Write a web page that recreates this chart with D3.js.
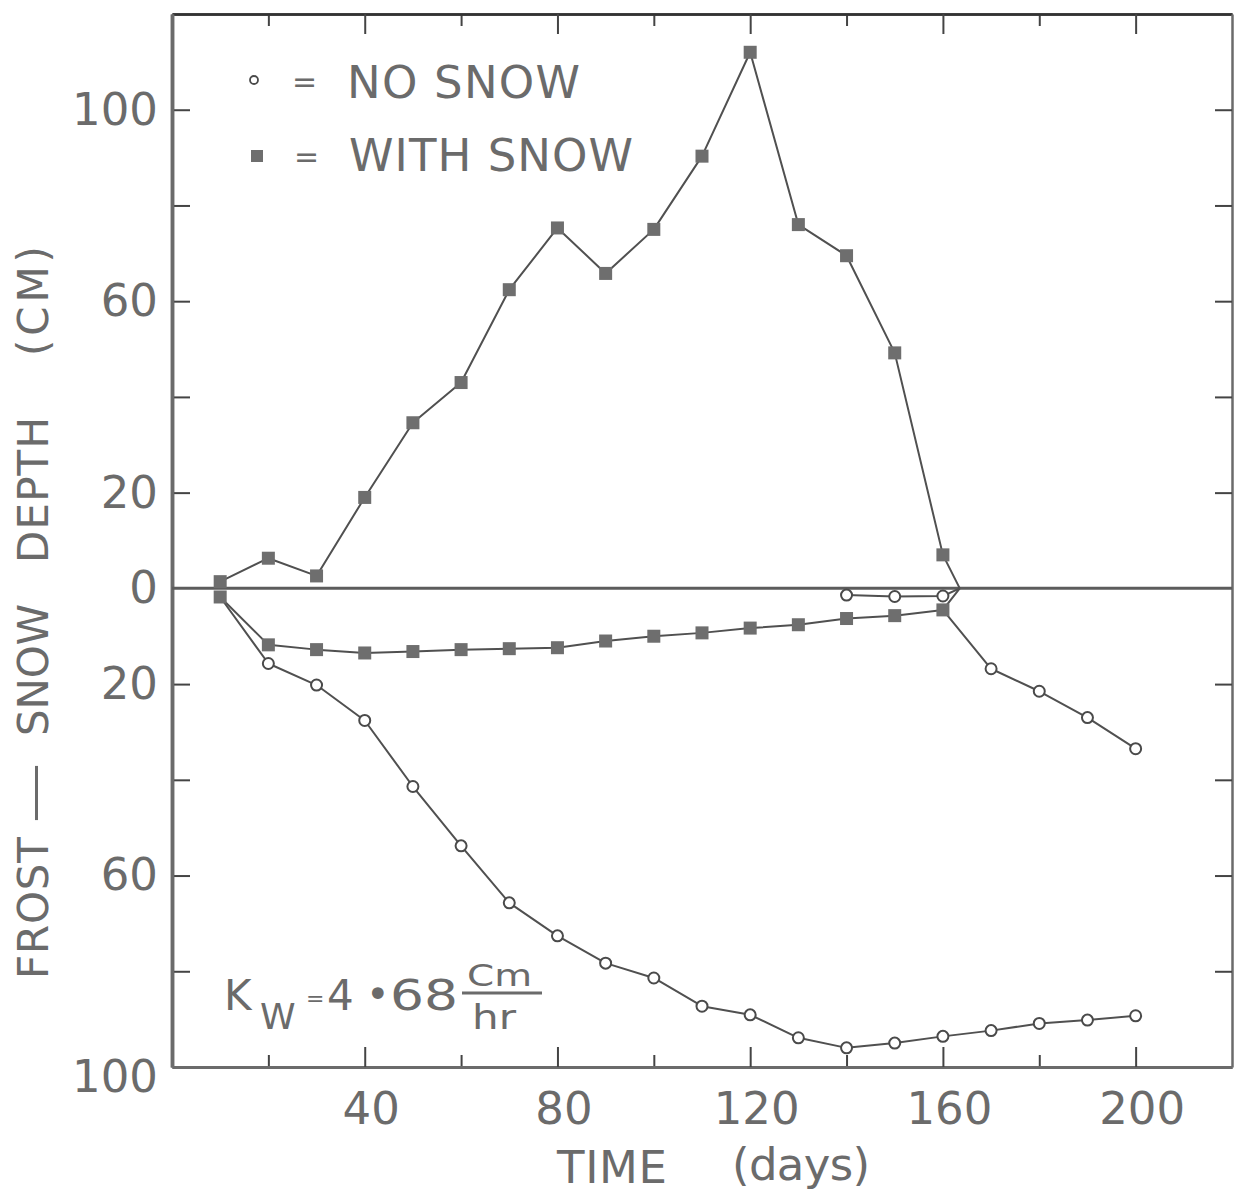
<!DOCTYPE html>
<html>
<head>
<meta charset="utf-8">
<script src="https://cdn.jsdelivr.net/npm/d3@7"></script>
<style>
  html, body { margin: 0; padding: 0; background: #fff; }
  svg { display: block; }
  text { font-family: "DejaVu Sans", "Liberation Sans", sans-serif; fill: #6b6b6b; }
</style>
</head>
<body>
<svg id="chart" width="1235" height="1195"></svg>
<script>
// ---------- data ----------
const snowDays      = [10, 20, 30, 40, 50, 60, 70, 80, 90, 100, 110, 120, 130, 140, 150, 160];
const snowDepth     = [1.4, 6.3, 2.6, 19, 34.6, 43, 62.4, 75.3, 65.8, 75, 90.3, 112, 76, 69.5, 49.2, 7];
const snowFrost     = [-1.8, -11.8, -12.8, -13.5, -13.2, -12.8, -12.6, -12.4, -11, -10, -9.3, -8.3, -7.6, -6.3, -5.7, -4.5];
const noSnowDays    = [10, 20, 30, 40, 50, 60, 70, 80, 90, 100, 110, 120, 130, 140, 150, 160, 170, 180, 190, 200];
const noSnowFrost   = [-1.8, -15.7, -20.2, -27.6, -41.4, -53.8, -65.7, -72.6, -78.3, -81.4, -87.3, -89.1, -93.9, -96, -95, -93.6, -92.4, -90.9, -90.2, -89.3];
const thawDays      = [140, 150, 160];
const thawDepth     = [-1.4, -1.7, -1.6];
const meltDay       = 163.5;
const lateThawDays  = [170, 180, 190, 200];
const lateThawDepth = [-16.8, -21.5, -27, -33.5];

const xLongTicks  = [40, 80, 120, 160, 200];
const xShortTicks = [20, 60, 100, 140, 180];
const yTicks      = [100, 80, 60, 40, 20, -20, -40, -60, -80];
const yLabels     = [100, 60, 20, 0, -20, -60, -100];

const legendItems = ["NO SNOW", "WITH SNOW"];

// ---------- scales ----------
const svg = d3.select("#chart");
const x = d3.scaleLinear().domain([0, 220]).range([172, 1232]);
const y = d3.scaleLinear().domain([-100, 120]).range([1067, 14]);

const gray = "#6b6b6b";
const lineCol = "#505050";

// ---------- axes ----------
function styleAxis(g) {
  g.selectAll("path.domain").attr("stroke", gray);
  g.selectAll(".tick line").attr("stroke", "#444").attr("stroke-width", 2);
  g.selectAll("text").attr("fill", gray).attr("font-size", 45)
    .attr("font-family", '"DejaVu Sans", sans-serif');
}

// bottom
svg.append("g").attr("transform", `translate(0,${y(-100)})`)
  .call(d3.axisBottom(x).tickValues(xShortTicks).tickSizeInner(-12).tickSizeOuter(0).tickFormat(""))
  .call(styleAxis).select("path.domain").attr("stroke-width", 3);
svg.append("g").attr("transform", `translate(0,${y(-100)})`)
  .call(d3.axisBottom(x).tickValues(xLongTicks).tickSizeInner(-20).tickSizeOuter(0).tickPadding(25).tickFormat(d3.format("d")))
  .call(styleAxis)
  .call(g => g.select("path.domain").attr("stroke-width", 3))
  .call(g => g.selectAll("text").attr("dx", 6));

// top
svg.append("g").attr("transform", `translate(0,${y(120)})`)
  .call(d3.axisTop(x).tickValues(xShortTicks).tickSizeInner(-12).tickSizeOuter(0).tickFormat(""))
  .call(styleAxis).select("path.domain").attr("stroke", "#333").attr("stroke-width", 2.5);
svg.append("g").attr("transform", `translate(0,${y(120)})`)
  .call(d3.axisTop(x).tickValues(xLongTicks).tickSizeInner(-20).tickSizeOuter(0).tickFormat(""))
  .call(styleAxis).select("path.domain").attr("stroke", "#333").attr("stroke-width", 2.5);

// left
svg.append("g").attr("transform", `translate(${x(0)},0)`)
  .call(d3.axisLeft(y).tickValues(yTicks).tickSizeInner(-18).tickSizeOuter(0).tickFormat(""))
  .call(styleAxis).select("path.domain").attr("stroke-width", 3.5);
svg.append("g").attr("transform", `translate(${x(0)},0)`)
  .call(d3.axisLeft(y).tickValues(yLabels).tickSize(0).tickPadding(14).tickFormat(d => String(Math.abs(d))))
  .call(styleAxis)
  .call(g => g.select("path.domain").attr("stroke-width", 3.5))
  .call(g => g.selectAll(".tick").filter(d => d === -100).select("text").attr("dy", "0.55em"));

// right
svg.append("g").attr("transform", `translate(${x(220)},0)`)
  .call(d3.axisRight(y).tickValues(yTicks).tickSizeInner(-17).tickSizeOuter(0).tickFormat(""))
  .call(styleAxis).select("path.domain").attr("stroke-width", 2.5);

// zero line
svg.append("line")
  .attr("x1", x(0)).attr("x2", x(220)).attr("y1", y(0)).attr("y2", y(0))
  .attr("stroke", "#5c5c5c").attr("stroke-width", 3);

// ---------- series ----------
const line = d3.line().x(d => x(d[0])).y(d => y(d[1]));
const zip = (a, b) => a.map((v, i) => [v, b[i]]);

const snowPts   = zip(snowDays, snowDepth);
const sFrostPts = zip(snowDays, snowFrost);
const nFrostPts = zip(noSnowDays, noSnowFrost);
const thawPts   = zip(thawDays, thawDepth);
const latePts   = zip(lateThawDays, lateThawDepth);

const paths = [
  snowPts.concat([[meltDay, 0]]),
  sFrostPts.concat([[meltDay, 0]]),
  nFrostPts,
  thawPts.concat([[meltDay, 0]]),
  [sFrostPts[sFrostPts.length - 1]].concat(latePts)
];
svg.append("g").selectAll("path").data(paths).join("path")
  .attr("d", line).attr("fill", "none")
  .attr("stroke", lineCol).attr("stroke-width", 2).attr("stroke-linejoin", "round");

// circles (no snow)
svg.append("g").selectAll("circle").data(nFrostPts.slice(1).concat(thawPts, latePts)).join("circle")
  .attr("cx", d => x(d[0])).attr("cy", d => y(d[1])).attr("r", 5.5)
  .attr("fill", "#fff").attr("stroke", "#4a4a4a").attr("stroke-width", 2);

// squares (with snow)
const sq = 13;
svg.append("g").selectAll("rect").data(snowPts.concat(sFrostPts)).join("rect")
  .attr("x", d => x(d[0]) - sq / 2).attr("y", d => y(d[1]) - sq / 2)
  .attr("width", sq).attr("height", sq).attr("fill", "#6e6e6e");

// ---------- legend ----------
const leg = svg.append("g");
leg.append("circle").attr("cx", 254).attr("cy", 80).attr("r", 4)
  .attr("fill", "#fff").attr("stroke", "#4a4a4a").attr("stroke-width", 1.8);
leg.append("rect").attr("x", 251).attr("y", 150).attr("width", 12).attr("height", 12).attr("fill", "#6e6e6e");
leg.append("text").attr("x", 292).attr("y", 92).attr("font-size", 30).text("=");
leg.append("text").attr("x", 294).attr("y", 167).attr("font-size", 30).text("=");
leg.append("text").attr("x", 347).attr("y", 98).attr("font-size", 45)
  .attr("textLength", 233).attr("lengthAdjust", "spacing").text(legendItems[0]);
leg.append("text").attr("x", 349).attr("y", 171).attr("font-size", 45)
  .attr("textLength", 284).attr("lengthAdjust", "spacing").text(legendItems[1]);

// ---------- axis titles ----------
const yt = svg.append("g").attr("transform", "translate(48,0) rotate(-90)");
[["FROST", 979, 142], ["—", 823, 60], ["SNOW", 736, 132], ["DEPTH", 563, 146], ["(CM)", 356, 110]]
  .forEach(([t, b, len]) => {
    yt.append("text").attr("x", -b).attr("y", 0).attr("font-size", 42)
      .attr("textLength", len).attr("lengthAdjust", t === "—" ? "spacingAndGlyphs" : "spacing").text(t);
  });

svg.append("text").attr("x", 557).attr("y", 1183).attr("font-size", 45)
  .attr("textLength", 110).attr("lengthAdjust", "spacing").text("TIME");
svg.append("text").attr("x", 732).attr("y", 1180).attr("font-size", 45)
  .attr("textLength", 138).attr("lengthAdjust", "spacing").text("(days)");

// ---------- K_w annotation ----------
const kw = svg.append("g");
kw.append("text").attr("x", 224).attr("y", 1010).attr("font-size", 42).text("K");
kw.append("text").attr("x", 260).attr("y", 1029).attr("font-size", 36).text("W");
kw.append("text").attr("x", 306).attr("y", 1006).attr("font-size", 22).text("=");
kw.append("text").attr("x", 327).attr("y", 1010).attr("font-size", 42).text("4");
kw.append("text").attr("x", 366).attr("y", 1008).attr("font-size", 40).text("•");
kw.append("text").attr("x", 390).attr("y", 1010).attr("font-size", 42)
  .attr("textLength", 68).attr("lengthAdjust", "spacingAndGlyphs").text("68");
kw.append("line").attr("x1", 462).attr("x2", 542).attr("y1", 993).attr("y2", 993)
  .attr("stroke", gray).attr("stroke-width", 3);
kw.append("text").attr("x", 467).attr("y", 986).attr("font-size", 31)
  .attr("textLength", 65).attr("lengthAdjust", "spacingAndGlyphs").text("Cm");
kw.append("text").attr("x", 472).attr("y", 1029).attr("font-size", 33)
  .attr("textLength", 44).attr("lengthAdjust", "spacingAndGlyphs").text("hr");
</script>
</body>
</html>
